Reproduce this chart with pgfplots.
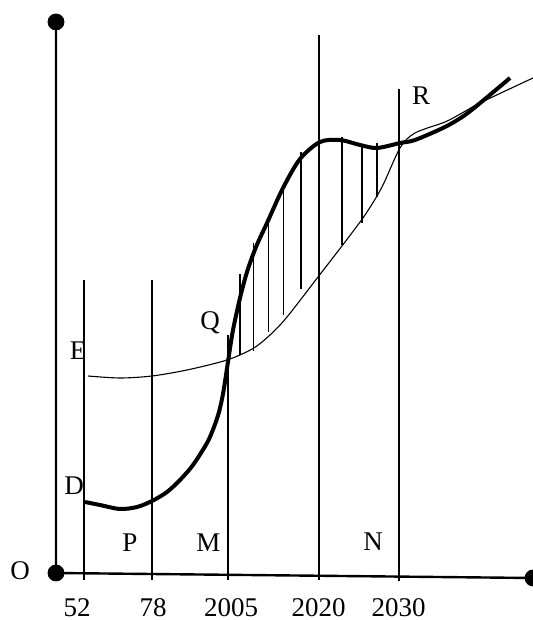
\documentclass[border=0pt]{standalone}
\usepackage{pgfplots}
\pgfplotsset{compat=1.18}
\usepackage{fontspec}
\setmainfont{Liberation Serif}
\tikzset{lbl/.style={anchor=base, inner sep=0pt, font=\fontsize{13.5}{14}\selectfont}}

\begin{document}
\begin{tikzpicture}
\begin{axis}[
    x=0.5pt, y=0.5pt,
    xmin=0, xmax=533, ymin=0, ymax=620,
    hide axis,
    clip=true,
    clip marker paths=true,
]
\coordinate (ll) at (axis cs:0,0);
\coordinate (ur) at (axis cs:533,620);

% axes
\addplot[black, line width=1.2pt] coordinates {(56,598) (56,47) (533,42)};
\addplot[black, only marks, mark=*, mark size=4pt] coordinates {(56,598) (56,47) (533,42)};

% vertical lines at the years
\addplot[black, line width=1pt] coordinates {(83.5,340) (83.5,40)};
\addplot[black, line width=1pt] coordinates {(151.5,340) (151.5,40)};
\addplot[black, line width=1pt] coordinates {(227.5,285) (227.5,40)};
\addplot[black, line width=1pt] coordinates {(319,585) (319,40)};
\addplot[black, line width=1pt] coordinates {(399,531) (399,39)};

% hatching between the curves
\addplot[black, line width=0.9pt] coordinates {(240,346) (240,265)};
\addplot[black, line width=0.9pt] coordinates {(253.5,377) (253.5,269)};
\addplot[black, line width=0.9pt] coordinates {(268.5,397) (268.5,288)};
\addplot[black, line width=0.9pt] coordinates {(283.5,435) (283.5,305)};
\addplot[black, line width=0.9pt] coordinates {(301,468) (301,331)};
\addplot[black, line width=0.9pt] coordinates {(342,483) (342,375)};
\addplot[black, line width=0.9pt] coordinates {(362,475) (362,397)};
\addplot[black, line width=0.9pt] coordinates {(377,477) (377,423)};

% thin curve (E)
\addplot[black, line width=0.55pt, smooth] coordinates {
    (88,244) (120,242) (152,244) (187,250) (227,260) (253,271.5) (270,285)
    (287,303) (318,343) (345,378) (365,405) (382,433) (400,472)
    (415,487) (445,498) (462,507) (482,518) (533,542)
};

% thick curve (D)
\addplot[black, line width=2pt, smooth] coordinates {
    (85,118) (100,115) (120,111) (137,113) (152,119) (167,128) (180,140)
    (193,155) (207,177) (214,193) (219,208) (223,226) (226,245) (229,265)
    (233,290) (240,322) (247,348) (256,373) (267,397) (283,432) (300,461)
    (320,478) (340,480) (360,475) (377,472) (400,477) (415,480) (445,493)
    (465,505) (485,521) (510,542)
};

% labels
\node[lbl] at (axis cs:20,40) {O};
\node[lbl] at (axis cs:74,125) {D};
\node[lbl] at (axis cs:78,260) {E};
\node[lbl] at (axis cs:130,68) {P};
\node[lbl] at (axis cs:208.5,68) {M};
\node[lbl] at (axis cs:210,290) {Q};
\node[lbl] at (axis cs:373,69) {N};
\node[lbl] at (axis cs:421,515) {R};

\node[lbl] at (axis cs:77,3.5) {52};
\node[lbl] at (axis cs:153,3.5) {78};
\node[lbl] at (axis cs:231,3.5) {2005};
\node[lbl] at (axis cs:318.5,3.5) {2020};
\node[lbl] at (axis cs:398.5,3.5) {2030};
\end{axis}
\pgfresetboundingbox
\path[use as bounding box] (ll) rectangle (ur);
\end{tikzpicture}
\end{document}
